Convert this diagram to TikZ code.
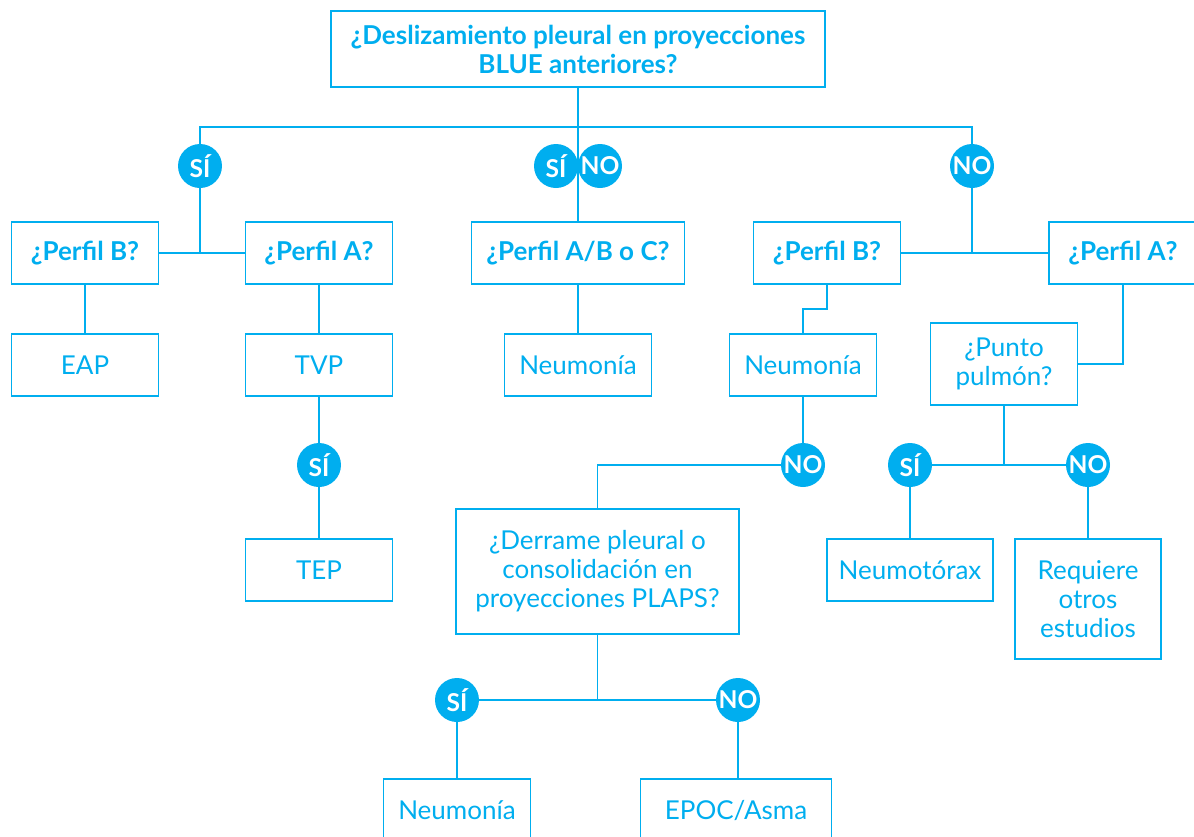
\documentclass[tikz,border=0pt]{standalone}
\usepackage{fontspec}
\setmainfont{Lato}
\usepackage{tikz}
\usetikzlibrary{positioning,calc}
\usepackage{xcolor}
\definecolor{flowblue}{HTML}{00AEEF}
\tikzset{
  box/.style={draw=flowblue,line width=1pt,text=flowblue,inner sep=0pt,align=center,
    minimum width=2.94cm,minimum height=1.24cm,font=\fontsize{14.8}{16.5}\selectfont},
  qbox/.style={box,font=\fontsize{14.8}{16.5}\selectfont\bfseries},
  ans/.style={circle,fill=flowblue,text=white,inner sep=0pt,minimum size=0.88cm,
    font=\fontsize{14}{15}\selectfont\bfseries},
  link/.style={draw=flowblue,line width=1pt}
}
\begin{document}
\begin{tikzpicture}[x=0.02cm,y=-0.02cm]
    \useasboundingbox (0,0) rectangle (1194,836);
    % first question
    \node[qbox,minimum width=9.88cm,minimum height=1.52cm] (q0) at (578,49) {¿Deslizamiento pleural en proyecciones\\BLUE anteriores?};
    \coordinate (bus) at (578,127);
    % left branch
    \node[qbox] (pb1) at (85,253) {¿Perfil B?};
    \node[qbox] (pa1) at (319,253) {¿Perfil A?};
    \node[box] (eap) at (85,365) {EAP};
    \node[box] (tvp) at (319,365) {TVP};
    \node[box] (tep) at (319,570) {TEP};
    % middle branch
    \node[qbox,minimum width=4.26cm] (q2) at (578,253) {¿Perfil A/B o C?};
    \node[box] (neu1) at (578,365) {Neumonía};
    % right branch
    \node[qbox] (pb2) at (827,253) {¿Perfil B?};
    \node[qbox,minimum width=2.96cm] (pa2) at (1123,253) {¿Perfil A?};
    \node[box] (neu2) at (803,365) {Neumonía};
    \node[box,minimum height=1.64cm] (punto) at (1004,364) {¿Punto\\pulmón?};
    \node[box,minimum width=3.32cm] (neumo) at (910,570) {Neumotórax};
    \node[box,minimum width=2.92cm,minimum height=2.4cm] (otros) at (1088,599) {Requiere\\otros\\estudios};
    \node[box,minimum width=5.66cm,minimum height=2.5cm] (der) at (597.5,571.5) {¿Derrame pleural o\\consolidación en\\proyecciones PLAPS?};
    \node[box] (neu3) at (457,810) {Neumonía};
    \node[box,minimum width=3.82cm] (epoc) at (736,810) {EPOC/Asma};
    % answers
    \node[ans] (si1) at (200,166) {SÍ};
    \node[ans] (si2) at (556,166) {SÍ};
    \node[ans] (no2) at (600,166) {NO};
    \node[ans] (no1) at (972,166) {NO};
    \node[ans] (si3) at (319,465) {SÍ};
    \node[ans] (no3) at (803,465) {NO};
    \node[ans] (si4) at (910,465) {SÍ};
    \node[ans] (no4) at (1088,465) {NO};
    \node[ans] (si5) at (457,700) {SÍ};
    \node[ans] (no5) at (738,700) {NO};
    % connectors
    \draw[link] (q0) -- (q2);
    \draw[link] (si1) |- (bus) -| (no1);
    \draw[link] (pb1) -- (pa1);
    \draw[link] (si1) -- (si1 |- pa1);
    \draw[link] (pb1) -- (eap);
    \draw[link] (pa1) -- (tvp);
    \draw[link] (tvp) -- (si3) -- (tep);
    \draw[link] (q2) -- (neu1);
    \draw[link] (pb2) -- (pa2);
    \draw[link] (no1) -- (no1 |- pa2);
    \coordinate (k1) at (815,309);
    \draw[link] (pb2) |- (k1) -| (neu2);
    \draw[link] (pa2) |- (punto);
    \draw[link] (neu2) -- (no3);
    \draw[link] (no3) -| (der);
    \draw[link] (si4) -- (no4);
    \draw[link] (punto) -- (punto |- si4);
    \draw[link] (si4) -- (neumo);
    \draw[link] (no4) -- (otros);
    \draw[link] (si5) -- (no5);
    \draw[link] (der) -- (der |- si5);
    \draw[link] (si5) -- (neu3);
    \draw[link] (no5) -- (no5 |- epoc.north);
  \end{tikzpicture}
\end{document}
